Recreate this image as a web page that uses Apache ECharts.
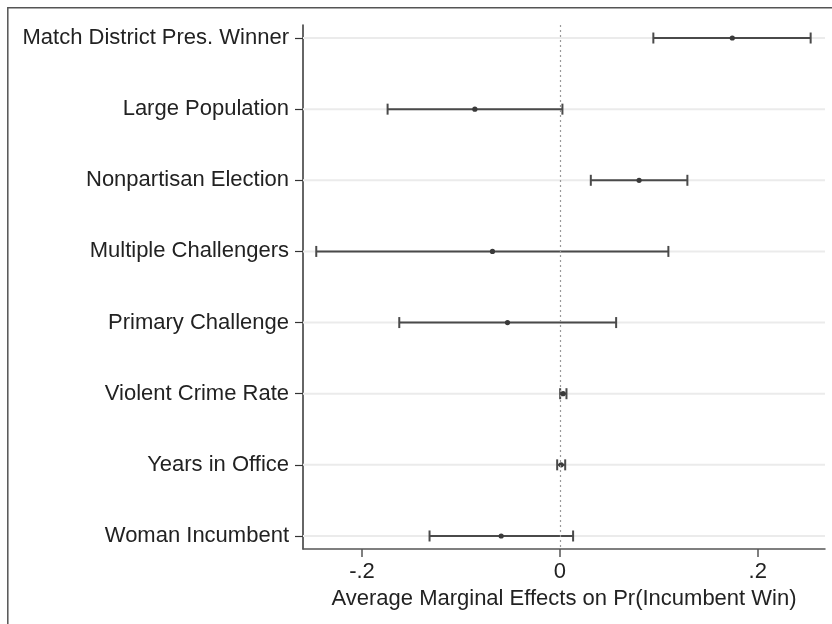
<!DOCTYPE html>
<html>
<head>
<meta charset="utf-8">
<script src="https://cdn.jsdelivr.net/npm/echarts@6/dist/echarts.min.js"></script>
<style>html,body{margin:0;padding:0;background:#fff}#c{width:832px;height:624px}</style>
</head>
<body>
<div id="c"></div>
<script>
const categories = ['Match District Pres. Winner','Large Population','Nonpartisan Election','Multiple Challengers','Primary Challenge','Violent Crime Rate','Years in Office','Woman Incumbent'];
const estimates = [0.1743, -0.0859, 0.0801, -0.0681, -0.0529, 0.0033, 0.0013, -0.0593];
const lowerCI   = [0.0945, -0.1741, 0.0313, -0.2462, -0.1623, 0.0003, -0.0027, -0.1317];
const upperCI   = [0.2535, 0.0026, 0.1289, 0.1097, 0.0569, 0.0067, 0.0054, 0.0134];
const xTickValues = [-0.2, 0, 0.2];
const xTickLabels = ['-.2', '0', '.2'];
const xTitle = 'Average Marginal Effects on Pr(Incumbent Win)';

const X_MIN = -0.2596, X_MAX = 0.268;
const FONT = 'Liberation Sans, Arial, Helvetica, sans-serif';
const positions = categories.map((_, i) => i + 1);
const barData = categories.map((_, i) => [i + 1, estimates[i], lowerCI[i], upperCI[i]]);
const gridData = positions.map(p => [p]);

const chart = echarts.init(document.getElementById('c'), null, {renderer: 'canvas'});
chart.setOption({
  animation: false,
  backgroundColor: '#fff',
  graphic: [{
    type: 'rect', z: -10,
    shape: {x: 7.8, y: 7.8, width: 900, height: 700},
    style: {fill: 'none', stroke: '#555', lineWidth: 1.5}
  }],
  grid: {left: 303, right: 7, top: 25, bottom: 75, containLabel: false},
  xAxis: {
    type: 'value', min: X_MIN, max: X_MAX,
    name: xTitle, nameLocation: 'middle', nameGap: 37,
    nameTextStyle: {fontFamily: FONT, fontSize: 22, color: '#222'},
    axisLine: {show: true, onZero: false, lineStyle: {color: '#555', width: 1.5}},
    axisTick: {show: true, length: 8, lineStyle: {color: '#555', width: 1.5}, customValues: xTickValues},
    axisLabel: {customValues: xTickValues, margin: 12, fontFamily: FONT, fontSize: 22, color: '#222',
      formatter: v => { const i = xTickValues.findIndex(t => Math.abs(t - v) < 1e-9); return i >= 0 ? xTickLabels[i] : ''; }},
    splitLine: {show: false}
  },
  yAxis: {
    type: 'value', inverse: true, min: 0.817, max: 8.183,
    axisLine: {show: true, onZero: false, lineStyle: {color: '#333', width: 1.5}},
    axisTick: {show: true, length: 8, lineStyle: {color: '#333', width: 1.2}, customValues: positions},
    axisLabel: {customValues: positions, margin: 14, fontFamily: FONT, fontSize: 22, color: '#222',
      formatter: v => categories[Math.round(v) - 1] || ''},
    splitLine: {show: false}
  },
  series: [
    {
      type: 'custom', z: 1, silent: true,
      data: gridData,
      encode: {y: 0},
      renderItem: (params, api) => {
        const y = api.value(0);
        const a = api.coord([X_MIN, y]);
        const b = api.coord([X_MAX, y]);
        return {type: 'line', shape: {x1: a[0], y1: a[1], x2: b[0], y2: b[1]}, style: {stroke: '#ebebeb', lineWidth: 2}};
      },
      markLine: {
        silent: true, symbol: 'none', label: {show: false},
        lineStyle: {color: '#999', type: [2, 3], width: 1.2},
        data: [{xAxis: 0}]
      }
    },
    {
      type: 'custom', z: 3, silent: true,
      data: barData,
      encode: {y: 0, x: [1, 2, 3]},
      renderItem: (params, api) => {
        const y = api.value(0);
        const pe = api.coord([api.value(1), y]);
        const pl = api.coord([api.value(2), y]);
        const pu = api.coord([api.value(3), y]);
        const c = '#4a4a4a', h = 5.5;
        return {type: 'group', children: [
          {type: 'line', shape: {x1: pl[0], y1: pl[1], x2: pu[0], y2: pu[1]}, style: {stroke: c, lineWidth: 2}},
          {type: 'line', shape: {x1: pl[0], y1: pl[1] - h, x2: pl[0], y2: pl[1] + h}, style: {stroke: c, lineWidth: 2}},
          {type: 'line', shape: {x1: pu[0], y1: pu[1] - h, x2: pu[0], y2: pu[1] + h}, style: {stroke: c, lineWidth: 2}},
          {type: 'circle', shape: {cx: pe[0], cy: pe[1], r: 2.6}, style: {fill: '#3a3a3a'}}
        ]};
      }
    }
  ]
});
</script>
</body>
</html>
